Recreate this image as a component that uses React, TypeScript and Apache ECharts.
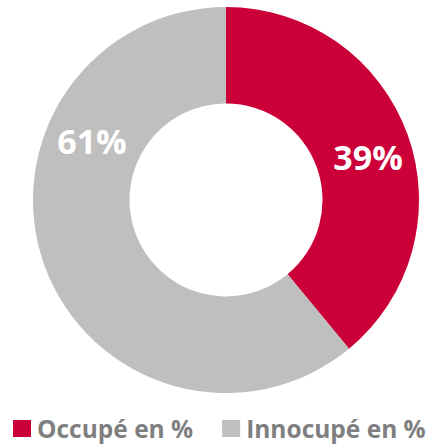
import React, { useEffect, useRef } from "react";
import * as echarts from "echarts";

const categories = ["Occupé en %", "Innocupé en %"];
const values = [39, 61];
const colors = ["#CC0039", "#BFBFBF"];

export default function App() {
  const ref = useRef<HTMLDivElement>(null);
  useEffect(() => {
    if (!ref.current) return;
    const chart = echarts.init(ref.current, null, { renderer: "svg" });
    chart.setOption({
      animation: false,
      color: colors,
      legend: {
        bottom: 4,
        left: 13,
        width: 413,
        icon: "rect",
        itemWidth: 18,
        itemHeight: 17,
        itemGap: 29,
        padding: 0,
        textStyle: {
          color: "#7F7F7F",
          fontFamily: "Open Sans",
          fontWeight: "bold",
          fontSize: 24.5,
          padding: [0, 0, 0, 1],
        },
        data: categories,
      },
      series: [
        {
          type: "pie",
          center: [226, 200],
          radius: [96.5, 193],
          startAngle: 90,
          clockwise: true,
          silent: true,
          label: {
            show: true,
            position: "inside",
            formatter: "{c}%",
            color: "#FFFFFF",
            fontFamily: "Open Sans",
            fontWeight: "bold",
            fontSize: 34,
          },
          labelLine: { show: false },
          labelLayout: (p: any) =>
            p.dataIndex === 1 ? { dx: 5, dy: -109 } : { dx: 3, dy: 7 },
          data: categories.map((name, i) => ({ name, value: values[i] })),
        },
      ],
    });
    return () => chart.dispose();
  }, []);
  return (
    <div
      ref={ref}
      style={{ position: "absolute", left: 0, top: 0, width: 426, height: 445 }}
    />
  );
}
